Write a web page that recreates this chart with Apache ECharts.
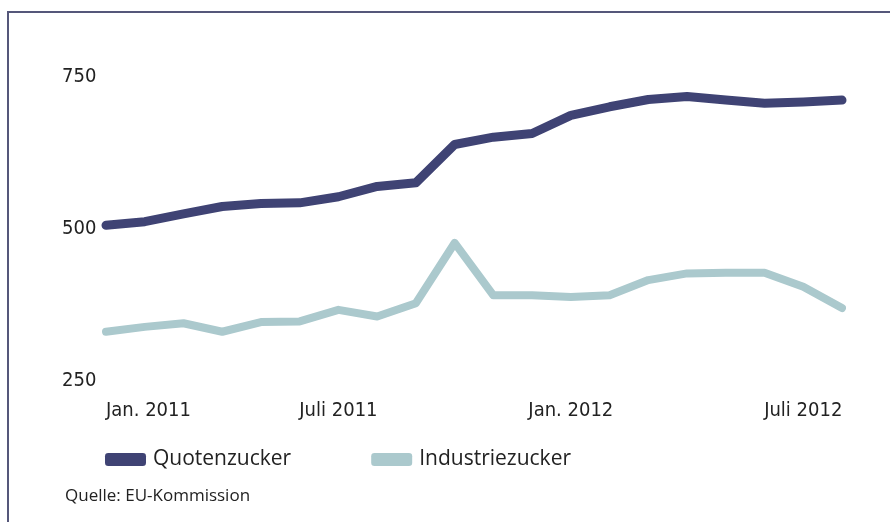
<!DOCTYPE html>
<html>
<head>
<meta charset="utf-8">
<script src="https://cdn.jsdelivr.net/npm/echarts@6/dist/echarts.min.js"></script>
<style>
html,body{margin:0;padding:0;background:#fff;}
#c{width:890px;height:522px;}
</style>
</head>
<body>
<div id="c"></div>
<script>
var months = ['Jan. 2011','Feb. 2011','März 2011','Apr. 2011','Mai 2011','Juni 2011','Juli 2011','Aug. 2011','Sep. 2011','Okt. 2011','Nov. 2011','Dez. 2011','Jan. 2012','Feb. 2012','März 2012','Apr. 2012','Mai 2012','Juni 2012','Juli 2012','Aug. 2012'];
var quotenzucker = [506, 512, 525, 537, 542, 543, 553, 570, 576, 639, 651, 657, 687, 701, 713, 718, 712, 707, 709, 712];
var industriezucker = [331, 339, 345, 331, 347, 348, 367, 356, 378, 477, 391, 391, 388, 391, 416, 427, 428, 428, 405, 370];
var yTicks = [250, 500, 750];
var sourceText = 'Quelle: EU-Kommission';

var chart = echarts.init(document.getElementById('c'));
var condensed = "'DejaVu Sans Condensed', 'Liberation Sans Narrow', 'Open Sans', sans-serif";
chart.setOption({
  backgroundColor: '#ffffff',
  animation: false,
  grid: {left: 106, right: 48, top: 77, bottom: 141},
  title: {
    text: sourceText, left: 60, top: 483,
    textStyle: {fontFamily: "'Open Sans', sans-serif", fontSize: 17, fontWeight: 'normal', color: '#222'}
  },
  legend: {
    left: 100, top: 444, itemWidth: 41, itemHeight: 13, itemGap: 80, icon: 'roundRect',
    textStyle: {fontFamily: "'Open Sans', sans-serif", fontSize: 21, color: '#222', padding: [0,0,0,2]},
    data: ['Quotenzucker', 'Industriezucker']
  },
  xAxis: {
    type: 'category', data: months, boundaryGap: false,
    axisLine: {show: false}, axisTick: {show: false}, splitLine: {show: false},
    axisLabel: {
      interval: 5, margin: 20, alignMinLabel: 'left',
      fontFamily: condensed, fontSize: 20, color: '#222'
    }
  },
  yAxis: {
    type: 'value', min: yTicks[0], max: yTicks[yTicks.length-1], interval: 250,
    axisLine: {show: false}, axisTick: {show: false}, splitLine: {show: false},
    axisLabel: {align: 'left', margin: 44, fontFamily: condensed, fontSize: 20, color: '#222'}
  },
  graphic: [{
    type: 'polyline', silent: true,
    shape: {points: [[8, 522], [8, 12], [890, 12]]},
    style: {stroke: '#55577a', lineWidth: 2, fill: null}
  }],
  series: [{
    name: 'Quotenzucker', type: 'line', data: quotenzucker, symbol: 'none',
    itemStyle: {color: '#3f4374'},
    lineStyle: {color: '#3f4374', width: 9, cap: 'round', join: 'round'}
  }, {
    name: 'Industriezucker', type: 'line', data: industriezucker, symbol: 'none',
    itemStyle: {color: '#abc9cd'},
    lineStyle: {color: '#abc9cd', width: 8, cap: 'round', join: 'round'}
  }]
});
</script>
</body>
</html>
